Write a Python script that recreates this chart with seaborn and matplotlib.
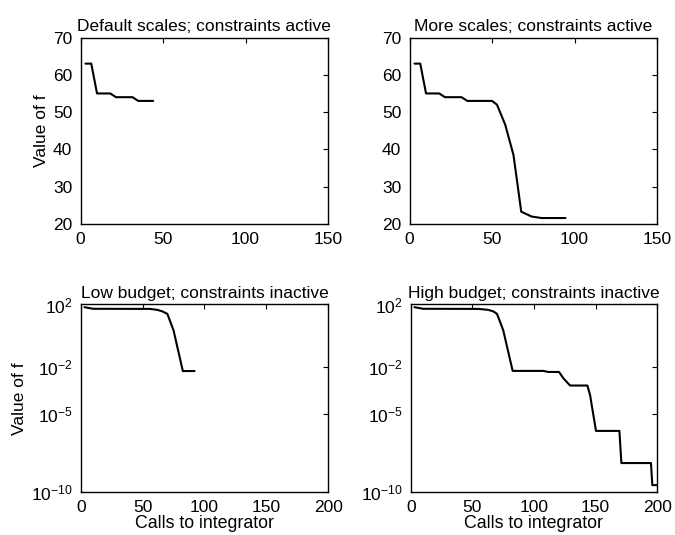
import pandas as pd
import matplotlib
matplotlib.use("Agg")
import matplotlib.pyplot as plt
import seaborn as sns

# values
# top-left: default scales, constraints active
tl_calls = [3, 6.5, 10, 18, 21.5, 31.5, 35, 44]
tl_f = [63, 63, 55, 55, 54, 54, 53, 53]

# top-right: more scales, constraints active
tr_calls = [3, 6.5, 10, 18, 21.5, 31.5, 35, 50, 53, 58, 63, 67.7, 74, 80, 94.5]
tr_f = [63, 63, 55, 55, 54, 54, 53, 53, 52, 46.6, 38.5, 23.3, 22, 21.6, 21.6]

# bottom-left: low budget, constraints inactive
bl_calls = [3, 10, 56, 62, 66, 70, 75, 82.5, 92]
bl_f = [67, 53, 52, 45, 36, 25, 2.2, 5.5e-3, 5.5e-3]

# bottom-right: high budget, constraints inactive
br_calls = [3, 10, 55, 63, 67, 70, 75, 82.7, 107.6, 111.6, 120.3, 123.8, 129.3,
            143.3, 145.5, 150.3, 169.3, 170.9, 194.9, 196, 199.5]
br_f = [67, 53, 52, 45, 36, 25, 2.3, 5.6e-3, 5.6e-3, 4.8e-3, 4.8e-3, 1.9e-3, 6.5e-4,
        6.5e-4, 1.6e-4, 8.1e-7, 8.1e-7, 7.1e-9, 7.1e-9, 2.75e-10, 2.75e-10]

titles = ["Default scales; constraints active", "More scales; constraints active",
          "Low budget; constraints inactive", "High budget; constraints inactive"]
lin_ticks = [20, 30, 40, 50, 60, 70]
log_ticks = [1e2, 1e-2, 1e-5, 1e-10]
log_labels = ["$10^{2}$", "$10^{-2}$", "$10^{-5}$", "$10^{-10}$"]

sns.set_style("white")
plt.rcParams['font.family'] = ['Liberation Sans', 'DejaVu Sans']
plt.rcParams['mathtext.default'] = 'regular'
plt.rcParams['font.size'] = 12.5
plt.rcParams['text.color'] = 'black'
plt.rcParams['axes.labelcolor'] = 'black'
plt.rcParams['xtick.color'] = 'black'
plt.rcParams['ytick.color'] = 'black'

fig = plt.figure(figsize=(6.75, 5.35), dpi=100)
positions = [[0.1193, 0.5813, 0.3667, 0.3486], [0.6067, 0.5813, 0.3667, 0.3486],
             [0.1196, 0.0804, 0.3667, 0.3505], [0.6085, 0.0804, 0.3652, 0.3505]]
series = [(tl_calls, tl_f), (tr_calls, tr_f), (bl_calls, bl_f), (br_calls, br_f)]

for i, (pos, (xs, ys)) in enumerate(zip(positions, series)):
    ax = fig.add_axes(pos)
    df = pd.DataFrame({'calls': xs, 'f': ys})
    sns.lineplot(x='calls', y='f', data=df, color='black', linewidth=1.5, ax=ax)
    if i < 2:
        ax.set_xlim(0, 150)
        ax.set_xticks([0, 50, 100, 150])
        ax.set_ylim(20, 70)
        ax.set_yticks(lin_ticks)
        ax.set_xlabel("")
    else:
        ax.set_yscale('log')
        ax.set_xlim(0, 200)
        ax.set_xticks([0, 50, 100, 150, 200])
        ax.set_ylim(1e-10, 1e2)
        ax.set_yticks(log_ticks)
        ax.set_yticklabels(log_labels)
        ax.minorticks_off()
        ax.set_xlabel("Calls to integrator", fontsize=12.8, labelpad=0)
    if i % 2 == 0:
        ax.set_ylabel("Value of f", fontsize=12.5, labelpad=3)
    else:
        ax.set_ylabel("")
    ax.set_title(titles[i], fontsize=12.5, pad=5)
    ax.tick_params(direction='in', length=3.5, width=0.8, top=True, right=True,
                   labelsize=12.5)
    ax.tick_params(axis='y', pad=6)
    ax.tick_params(axis='x', pad=6)
    for sp in ax.spines.values():
        sp.set_linewidth(1.0)
        sp.set_color('black')

plt.savefig("out.png", dpi=100)
